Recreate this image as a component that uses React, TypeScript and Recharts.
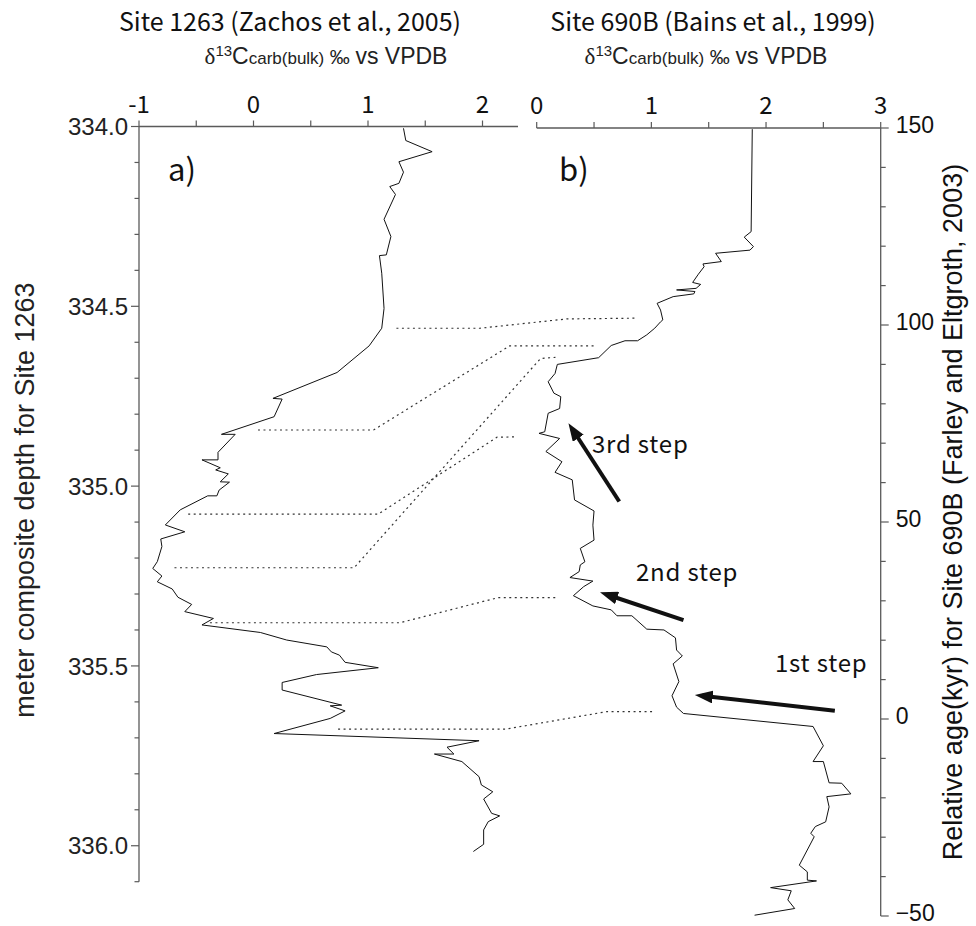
import React from 'react';
import { ScatterChart, Scatter, XAxis, YAxis } from 'recharts';

const W = 976;
const H = 926;

const AXIS = '#5a5a5a';
const INK = '#111';
const GOTHIC = '"Noto Sans CJK JP", "Noto Sans", sans-serif';
const ARIAL = '"Liberation Sans", Arial, sans-serif';

// Site 1263 bulk carbonate d13C (permil) against depth (mcd)
const site1263Carbon = [
  1.31, 1.33, 1.56, 1.27, 1.31, 1.27, 1.19, 1.24, 1.14, 1.2, 1.16, 1.1, 1.12, 1.14, 1.12, 1.01,
  0.73, 0.17, 0.25, 0.18, -0.28, -0.16, -0.31, -0.31, -0.45, -0.29, -0.33, -0.22, -0.29, -0.21,
  -0.3, -0.32, -0.4, -0.64, -0.77, -0.6, -0.81, -0.8, -0.84, -0.88, -0.8, -0.84, -0.71, -0.66,
  -0.54, -0.6, -0.35, -0.45, 0.06, 0.29, 0.64, 0.68, 0.75, 0.8, 1.09, 0.55, 0.25, 0.25, 0.77,
  0.67, 0.8, 0.67, 0.18, 1.97, 1.69, 1.75, 1.58, 1.82, 1.97, 1.99, 2.09, 2.01, 2.08, 2.15, 2.05,
  2.01, 2.01, 1.92,
];
const site1263Depth = [
  334.005, 334.039, 334.07, 334.098, 334.127, 334.158, 334.167, 334.189, 334.258, 334.306,
  334.357, 334.359, 334.408, 334.506, 334.561, 334.61, 334.684, 334.756, 334.758, 334.807,
  334.856, 334.856, 334.906, 334.927, 334.927, 334.949, 334.955, 334.966, 334.988, 334.989,
  335.011, 335.027, 335.027, 335.066, 335.108, 335.127, 335.147, 335.168, 335.21, 335.229,
  335.25, 335.266, 335.286, 335.309, 335.329, 335.349, 335.368, 335.386, 335.407, 335.428,
  335.447, 335.461, 335.47, 335.49, 335.505, 335.524, 335.546, 335.567, 335.609, 335.611,
  335.625, 335.646, 335.688, 335.708, 335.726, 335.745, 335.745, 335.766, 335.808, 335.831,
  335.85, 335.87, 335.91, 335.917, 335.933, 335.956, 335.996, 336.016,
];

// Site 690B bulk carbonate d13C (permil) against relative age (kyr)
const site690Carbon = [
  1.88, 1.87, 1.81, 1.89, 1.86, 1.56, 1.61, 1.45, 1.46, 1.41, 1.36, 1.43, 1.39, 1.22, 1.38, 1.37,
  1.19, 1.05, 1.08, 1.1, 1.08, 1.03, 0.96, 0.88, 0.77, 0.65, 0.54, 0.18, 0.16, 0.1, 0.15, 0.21,
  0.2, 0.1, 0.07, 0.02, 0.2, 0.08, 0.22, 0.16, 0.31, 0.33, 0.5, 0.49, 0.5, 0.38, 0.42, 0.38,
  0.37, 0.29, 0.49, 0.41, 0.32, 0.49, 0.65, 0.7, 0.83, 0.96, 1.11, 1.21, 1.22, 1.27, 1.19, 1.24,
  1.18, 1.22, 1.28, 2.41, 2.5, 2.41, 2.5, 2.55, 2.66, 2.74, 2.53, 2.55, 2.52, 2.43, 2.39, 2.42,
  2.29, 2.36, 2.36, 2.44, 2.04, 2.22, 2.19, 2.25, 1.9,
];
const site690Age = [
  149.7, 123.7, 122.3, 119.9, 119.0, 118.2, 116.1, 115.5, 114.8, 112.9, 110.8, 110.3, 109.3,
  108.9, 108.5, 107.9, 107.2, 105.5, 103.8, 101.3, 100.8, 99.2, 97.5, 96.0, 96.0, 94.8, 91.7,
  90.0, 87.7, 85.6, 82.7, 81.8, 78.8, 77.6, 72.9, 72.5, 71.2, 67.9, 65.3, 62.6, 60.7, 55.6,
  52.8, 49.2, 45.4, 43.3, 39.9, 39.1, 37.4, 35.9, 35.0, 33.6, 31.3, 28.7, 27.7, 26.2, 26.2,
  22.8, 22.6, 20.6, 17.5, 16.0, 14.0, 9.5, 5.9, 3.0, 1.4, -1.9, -6.8, -10.8, -10.8, -16.2,
  -16.3, -19.0, -19.7, -22.3, -26.1, -27.3, -29.0, -29.9, -37.1, -38.8, -40.9, -41.1, -42.8,
  -43.6, -45.9, -48.1, -49.8,
];

// tie lines, read in panel a units carried across both panels (x) and Site 1263 depth (y)
const tieLineCarbon = [
  [1.25, 1.98, 2.74, 3.34],
  [0.04, 1.05, 2.24, 2.99],
  [-0.57, 1.09, 2.13, 2.29],
  [-0.69, 0.88, 2.51, 2.64],
  [-0.38, 1.28, 2.14, 2.64],
  [0.74, 2.2, 3.09, 3.5],
];
const tieLineDepth = [
  [334.561, 334.561, 334.535, 334.533],
  [334.844, 334.844, 334.61, 334.61],
  [335.078, 335.078, 334.864, 334.863],
  [335.227, 335.227, 334.645, 334.642],
  [335.38, 335.38, 335.31, 335.31],
  [335.676, 335.676, 335.627, 335.627],
];

// step arrows on Site 690B: [tail, head]
const stepLabels = ['3rd step', '2nd step', '1st step'];
const stepArrowCarbon = [[0.72, 0.31], [1.28, 0.61], [2.6, 1.44]];
const stepArrowAge = [[55.2, 73.6], [25.1, 31.6], [2.1, 5.9]];

const carbonTicksA = [-1, -0.5, 0, 0.5, 1, 1.5, 2];
const carbonTicksB = [0, 0.5, 1, 1.5, 2, 2.5, 3];
const depthTicks = [
  334.0, 334.1, 334.2, 334.3, 334.4, 334.5, 334.6, 334.7, 334.8, 334.9, 335.0, 335.1, 335.2,
  335.3, 335.4, 335.5, 335.6, 335.7, 335.8, 335.9, 336.0, 336.1,
];
const ageTicks = [150, 140, 130, 120, 110, 100, 90, 80, 70, 60, 50, 40, 30, 20, 10, 0, -10, -20, -30, -40, -50];

const site1263 = site1263Depth.map((y, i) => ({ x: site1263Carbon[i], y }));
const site690 = site690Age.map((y, i) => ({ x: site690Carbon[i], y }));
const tieLines = tieLineCarbon.map((xs, k) => xs.map((x, i) => ({ x, y: tieLineDepth[k][i] })));
const stepArrows = stepArrowCarbon.map((xs, k) => xs.map((x, i) => ({ x, y: stepArrowAge[k][i] })));

// plot boxes on the page
const BOX_A = { left: 139, right: 518, top: 126.5, bottom: 881.7 };
const BOX_B = { left: 536.7, right: 880.7, top: 128, bottom: 916 };
const TOP_H = 40;
const SIDE_W = 70;

const noDot = () => <g />;

const topTick = (axisY: number) => (props: any) => {
  const { x, payload } = props;
  const v = payload.value;
  return (
    <g>
      <line x1={x} x2={x} y1={axisY} y2={axisY - 6} stroke={AXIS} strokeWidth={1.2} />
      {Number.isInteger(v) && (
        <text x={x} y={axisY - 14} textAnchor="middle" fontFamily={GOTHIC} fontSize={24} fill="#111">
          {v}
        </text>
      )}
    </g>
  );
};

const depthTick = (props: any) => {
  const { y, payload } = props;
  const v = payload.value;
  const major = Math.abs(v * 2 - Math.round(v * 2)) < 1e-6;
  const x0 = BOX_A.left;
  return (
    <g>
      <line x1={x0} x2={x0 - (major ? 8 : 4.5)} y1={y} y2={y} stroke={AXIS} strokeWidth={1.2} />
      {major && (
        <text x={x0 - 11} y={y} dy="0.36em" textAnchor="end" fontFamily={ARIAL} fontSize={24} fill="#222">
          {v.toFixed(1)}
        </text>
      )}
    </g>
  );
};

const ageTick = (props: any) => {
  const { y, payload } = props;
  const v = payload.value;
  const major = v % 50 === 0;
  const x0 = BOX_B.right;
  return (
    <g>
      <line x1={x0} x2={x0 + (major ? 8 : 5)} y1={y} y2={y} stroke={AXIS} strokeWidth={1.2} />
      {major && (
        <text x={x0 + 15} y={y} dy="0.2em" textAnchor="start" fontFamily={ARIAL} fontSize={23} fill="#111">
          {v < 0 ? '\u2212' + Math.abs(v) : v}
        </text>
      )}
    </g>
  );
};

const arrowLine = (p: any) => {
  const [a, b] = p.points;
  return (
    <path
      d={`M${a.x},${a.y}L${b.x},${b.y}`}
      stroke="#111"
      strokeWidth={4}
      fill="none"
      markerEnd="url(#stepHead)"
    />
  );
};

const layer: React.CSSProperties = { position: 'absolute', left: 0, top: 0 };

const Subtitle = ({ x }: { x: number }) => (
  <text x={x} y={64} textAnchor="middle" fontFamily={ARIAL} fontSize={23} fill="#222">
    <tspan fontFamily='"Liberation Serif", serif'>δ</tspan>
    <tspan fontSize={15} dy={-8}>13</tspan>
    <tspan dy={8}>C</tspan>
    <tspan fontSize={17}>carb(bulk)</tspan>
    <tspan fontSize={20}> ‰ </tspan>
    <tspan>vs VPDB</tspan>
  </text>
);

export default function App() {
  return (
    <div style={{ position: 'absolute', left: 0, top: 0, width: W, height: H, background: '#fff' }}>
      {/* panel a: Site 1263 */}
      <div style={layer}>
        <ScatterChart
          width={W}
          height={H}
          margin={{ top: BOX_A.top - TOP_H, left: BOX_A.left - SIDE_W, right: W - BOX_A.right, bottom: H - BOX_A.bottom }}
        >
          <XAxis
            type="number"
            dataKey="x"
            orientation="top"
            domain={[-1, 2.31]}
            allowDataOverflow
            ticks={carbonTicksA}
            interval={0}
            height={TOP_H}
            tickLine={false}
            tick={topTick(BOX_A.top)}
            axisLine={{ stroke: AXIS, strokeWidth: 1.3 }}
          />
          <YAxis
            type="number"
            dataKey="y"
            reversed
            domain={[334, 336.1]}
            allowDataOverflow
            ticks={depthTicks}
            interval={0}
            width={SIDE_W}
            tickLine={false}
            tick={depthTick}
            axisLine={{ stroke: AXIS, strokeWidth: 1.3 }}
          />
          <Scatter
            data={site1263}
            line={{ stroke: INK, strokeWidth: 1 }}
            lineType="joint"
            shape={noDot}
            isAnimationActive={false}
          />
        </ScatterChart>
      </div>

      {/* dotted tie lines across both panels */}
      <div style={layer}>
        <ScatterChart
          width={W}
          height={H}
          margin={{ top: BOX_A.top, left: BOX_A.left, right: W - BOX_B.right, bottom: H - BOX_A.bottom }}
        >
          <XAxis hide type="number" dataKey="x" domain={[-1, 5.483]} allowDataOverflow />
          <YAxis hide type="number" dataKey="y" reversed domain={[334, 336.1]} allowDataOverflow />
          {tieLines.map((pts, i) => (
            <Scatter
              key={i}
              data={pts}
              line={{ stroke: '#333', strokeWidth: 1.2, strokeDasharray: '2 3.5' }}
              lineType="joint"
              shape={noDot}
              isAnimationActive={false}
            />
          ))}
        </ScatterChart>
      </div>

      {/* panel b: Site 690B */}
      <div style={layer}>
        <ScatterChart
          width={W}
          height={H}
          margin={{ top: BOX_B.top - TOP_H, left: BOX_B.left, right: W - BOX_B.right - SIDE_W, bottom: H - BOX_B.bottom }}
        >
          <defs>
            <marker
              id="stepHead"
              viewBox="0 0 18 13"
              markerWidth={18}
              markerHeight={13}
              refX={11}
              refY={6.5}
              orient="auto"
              markerUnits="userSpaceOnUse"
            >
              <path d="M0,0 L18,6.5 L0,13 z" fill="#111" />
            </marker>
          </defs>
          <XAxis
            type="number"
            dataKey="x"
            orientation="top"
            domain={[0, 3]}
            allowDataOverflow
            ticks={carbonTicksB}
            interval={0}
            height={TOP_H}
            tickLine={false}
            tick={topTick(BOX_B.top)}
            axisLine={{ stroke: AXIS, strokeWidth: 1.3 }}
          />
          <YAxis
            type="number"
            dataKey="y"
            orientation="right"
            domain={[-50, 150]}
            allowDataOverflow
            ticks={ageTicks}
            interval={0}
            width={SIDE_W}
            tickLine={false}
            tick={ageTick}
            axisLine={{ stroke: AXIS, strokeWidth: 1.3 }}
          />
          <Scatter
            data={site690}
            line={{ stroke: INK, strokeWidth: 1 }}
            lineType="joint"
            shape={noDot}
            isAnimationActive={false}
          />
          {stepArrows.map((pts, i) => (
            <Scatter key={i} data={pts} line={arrowLine} lineType="joint" shape={noDot} isAnimationActive={false} />
          ))}
        </ScatterChart>
      </div>

      {/* titles and annotations */}
      <svg width={W} height={H} style={{ ...layer, pointerEvents: 'none' }}>
        <text x={290} y={31} textAnchor="middle" fontFamily={GOTHIC} fontSize={25} fill="#111">
          Site 1263 (Zachos et al., 2005)
        </text>
        <Subtitle x={326} />
        <text x={713} y={31} textAnchor="middle" fontFamily={GOTHIC} fontSize={25} fill="#111">
          Site 690B (Bains et al., 1999)
        </text>
        <Subtitle x={706} />

        <text x={168} y={181} fontFamily={GOTHIC} fontSize={31} fill="#111">a)</text>
        <text x={559} y={181} fontFamily={GOTHIC} fontSize={31} fill="#111">b)</text>

        <text x={592} y={453} fontFamily={GOTHIC} fontSize={24} letterSpacing={0.8} fill="#111">{stepLabels[0]}</text>
        <text x={636} y={581} fontFamily={GOTHIC} fontSize={24} letterSpacing={0.8} fill="#111">{stepLabels[1]}</text>
        <text x={775} y={672} fontFamily={GOTHIC} fontSize={24} letterSpacing={0.8} fill="#111">{stepLabels[2]}</text>

        <text
          transform="translate(34 500) rotate(-90)"
          textAnchor="middle"
          fontFamily={ARIAL}
          fontSize={27}
          fill="#222"
        >
          meter composite depth for Site 1263
        </text>
        <text
          transform="translate(962 512) rotate(-90)"
          textAnchor="middle"
          fontFamily={ARIAL}
          fontSize={27}
          fill="#111"
        >
          Relative age(kyr) for Site 690B (Farley and Eltgroth, 2003)
        </text>
      </svg>
    </div>
  );
}
